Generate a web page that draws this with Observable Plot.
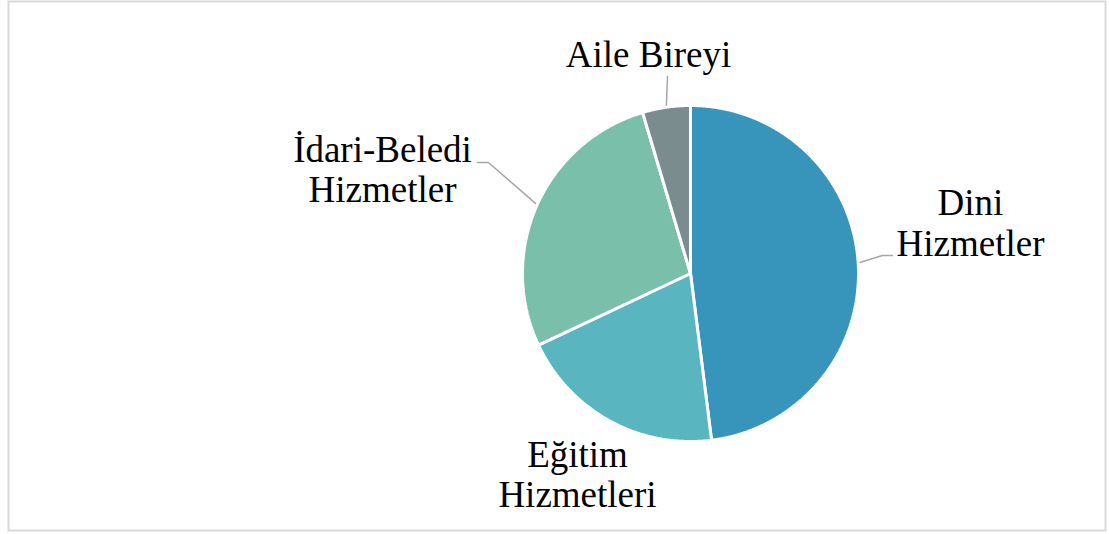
<!DOCTYPE html>
<html>
<head>
<meta charset="utf-8">
<script src="https://cdn.jsdelivr.net/npm/d3@7"></script>
<script src="https://cdn.jsdelivr.net/npm/@observablehq/plot@0.6"></script>
<style>
  html, body { margin: 0; padding: 0; background: #fff; }
</style>
</head>
<body>
<div id="chart"></div>
<script>
// ---- data ----
const categories = ["Dini Hizmetler", "Eğitim Hizmetleri", "İdari-Beledi Hizmetler", "Aile Bireyi"];
const labelTexts = ["Dini\nHizmetler", "Eğitim\nHizmetleri", "İdari-Beledi\nHizmetler", "Aile Bireyi"];
const values = [48.0, 20.0, 27.4, 4.6];
const colors = ["#3795bc", "#59b6c0", "#79bfa9", "#7a8c8e"];

// ---- layout (pixels) ----
const W = 1109, H = 534;
const cx = 690, cy = 273, R = 168;
// label centre positions and leader elbow/end points
const labelPos = [
  {x: 970, y: 222, leader: [[882, 255], [892, 255]]},
  {x: 577, y: 473.5, leader: null},
  {x: 382, y: 168.5, leader: [[488, 162], [477, 162]]},
  {x: 648, y: 53, leader: [[667, 76]]}
];

// ---- geometry ----
const pie = d3.pie().sort(null).value(d => d.value);
const arcs = pie(categories.map((c, i) => ({name: c, value: values[i]})));
const pt = (a, r) => [cx + r * Math.sin(a), cy - r * Math.cos(a)];

const slicePts = [];
arcs.forEach(a => {
  const n = Math.max(2, Math.ceil((a.endAngle - a.startAngle) / 0.005));
  slicePts.push({name: a.data.name, x: cx, y: cy});
  for (let k = 0; k <= n; k++) {
    const t = a.startAngle + (a.endAngle - a.startAngle) * k / n;
    const [x, y] = pt(t, R);
    slicePts.push({name: a.data.name, x, y});
  }
  slicePts.push({name: a.data.name, x: cx, y: cy});
});

const leaderPts = [];
arcs.forEach((a, i) => {
  const L = labelPos[i].leader;
  if (!L) return;
  const mid = (a.startAngle + a.endAngle) / 2;
  const [x0, y0] = pt(mid, R);
  leaderPts.push({name: a.data.name, x: x0, y: y0});
  L.forEach(([x, y]) => leaderPts.push({name: a.data.name, x, y}));
});

const labelData = arcs.map((a, i) => ({name: a.data.name, text: labelTexts[i], x: labelPos[i].x, y: labelPos[i].y}));

const chart = Plot.plot({
  width: W,
  height: H,
  margin: 0,
  x: {domain: [0, W], range: [0, W], axis: null},
  y: {domain: [0, H], range: [0, H], axis: null},
  color: {domain: categories, range: colors},
  style: {background: "#fff"},
  marks: [
    Plot.frame({stroke: "#d9d9d9", strokeWidth: 2, insetLeft: 8, insetTop: 1, insetRight: 4, insetBottom: 4}),
    Plot.line(leaderPts, {x: "x", y: "y", z: "name", stroke: "#a6a6a6", strokeWidth: 1.5, curve: "linear"}),
    Plot.line(slicePts, {x: "x", y: "y", z: "name", fill: "name", stroke: "#fff", strokeWidth: 3, strokeLinejoin: "miter", curve: "linear"}),
    Plot.text(labelData, {x: "x", y: "y", text: "text", fontSize: 37, lineHeight: 1.1, fill: "#000", fontFamily: "Liberation Serif, Times New Roman, serif", textAnchor: "middle", lineAnchor: "middle"})
  ]
});
document.getElementById("chart").appendChild(chart);
</script>
</body>
</html>
